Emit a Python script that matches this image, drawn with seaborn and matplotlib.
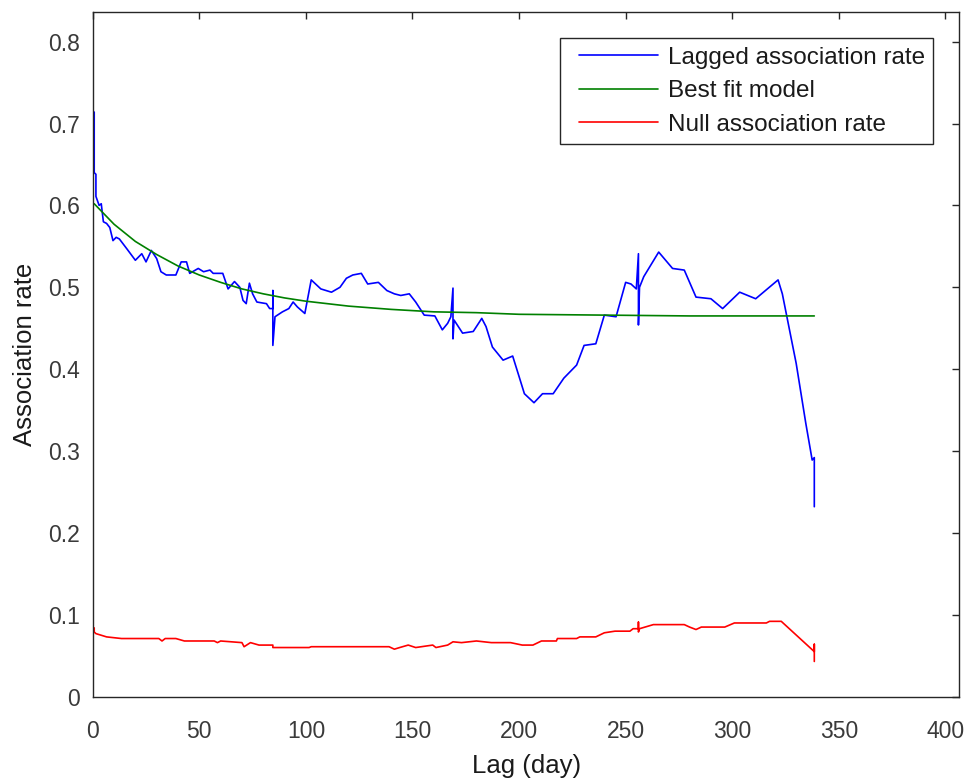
import numpy as np
import pandas as pd
import matplotlib
matplotlib.use("Agg")
import matplotlib.pyplot as plt
from matplotlib.lines import Line2D
from matplotlib.legend_handler import HandlerLine2D
import seaborn as sns

# Lagged association rate (repeated lags give the vertical spikes)
lag_days = [0.7, 0.7, 1.5, 1.5, 3, 4, 5, 6.5, 8, 9.5, 11, 12.5, 16, 20, 23, 25, 27.5, 30,
            32, 34.5, 39, 41.5, 44, 45.5, 49.5, 52, 55, 56.5, 61, 63.5, 66.5, 69, 70.5,
            72, 73.5, 75, 77, 81.5, 83, 84.5, 84.5, 84.5, 85.5, 89, 92, 94, 96, 99.5,
            102.5, 107, 112, 116, 119, 122, 126, 129, 134, 138, 141.5, 144.5, 148.5,
            151.5, 155.5, 160.5, 164, 166.5, 168, 169, 169, 169.5, 173.5, 178.5, 182.5,
            184.5, 187.5, 192.5, 197, 200, 202.5, 207, 211, 216, 221, 227, 230.5, 236,
            240, 245.5, 250, 252.5, 255, 256, 256, 256.5, 258.5, 265.5, 272, 277.5, 283,
            290, 295.5, 303.5, 311, 321.5, 323.5, 330, 334.5, 337.5, 338.5, 338.5]
lagged_rate = [0.714, 0.640, 0.638, 0.611, 0.600, 0.602, 0.580, 0.578, 0.573, 0.557,
               0.561, 0.559, 0.547, 0.533, 0.541, 0.531, 0.545, 0.535, 0.519, 0.515,
               0.515, 0.531, 0.531, 0.517, 0.523, 0.519, 0.521, 0.517, 0.517, 0.498,
               0.507, 0.500, 0.484, 0.480, 0.505, 0.492, 0.482, 0.480, 0.474, 0.474,
               0.496, 0.429, 0.464, 0.470, 0.474, 0.482, 0.476, 0.468, 0.509, 0.498,
               0.494, 0.500, 0.511, 0.515, 0.517, 0.504, 0.506, 0.496, 0.492, 0.490,
               0.492, 0.482, 0.466, 0.465, 0.448, 0.456, 0.464, 0.499, 0.437, 0.460,
               0.444, 0.446, 0.462, 0.452, 0.427, 0.411, 0.416, 0.391, 0.370, 0.359,
               0.370, 0.370, 0.389, 0.405, 0.429, 0.431, 0.466, 0.464, 0.506, 0.504,
               0.498, 0.541, 0.454, 0.500, 0.513, 0.543, 0.523, 0.521, 0.488, 0.486,
               0.474, 0.494, 0.486, 0.509, 0.492, 0.407, 0.334, 0.289, 0.292, 0.232]

# Best fit model curve
fit_days = [0.7, 10, 20, 30, 40, 50, 60, 70, 80, 90, 100, 120, 140, 160, 180, 200, 240,
            280, 338.5]
fit_rate = [0.602, 0.577, 0.556, 0.540, 0.526, 0.515, 0.506, 0.498, 0.492, 0.487,
            0.483, 0.477, 0.473, 0.470, 0.469, 0.467, 0.466, 0.465, 0.465]

# Null association rate
null_days = [0.7, 0.7, 1.5, 6.5, 13.5, 31, 32.5, 34, 39, 43, 57, 58.5, 60, 70, 71, 74, 78,
             84.5, 84.5, 101.5, 102.5, 126, 139, 141.5, 144, 148, 151.5, 159.5, 161,
             166.5, 169, 173, 180, 187, 196, 201.5, 206.5, 210.5, 217.5, 218, 227, 228.5,
             236, 240, 245, 252, 253.5, 256, 256, 256, 256.5, 263, 277.5, 280, 283,
             285.5, 296.5, 301, 316, 317.5, 323, 338.5, 338.5, 338.5]
null_rate = [0.084, 0.079, 0.077, 0.073, 0.071, 0.071, 0.068, 0.071, 0.071, 0.068,
             0.068, 0.066, 0.068, 0.066, 0.061, 0.066, 0.063, 0.063, 0.060, 0.060,
             0.061, 0.061, 0.061, 0.058, 0.060, 0.063, 0.060, 0.063, 0.060, 0.063,
             0.067, 0.066, 0.068, 0.066, 0.066, 0.063, 0.063, 0.068, 0.068, 0.071,
             0.071, 0.073, 0.073, 0.078, 0.080, 0.080, 0.083, 0.083, 0.091, 0.079,
             0.083, 0.088, 0.088, 0.085, 0.082, 0.085, 0.085, 0.090, 0.090, 0.092,
             0.092, 0.055, 0.064, 0.043]

labels = ["Lagged association rate", "Best fit model", "Null association rate"]
colors = ["#0000ff", "#008000", "#ff0000"]

frames = []
for name, xs, ys in zip(labels, [lag_days, fit_days, null_days],
                        [lagged_rate, fit_rate, null_rate]):
    frames.append(pd.DataFrame({"lag": xs, "rate": ys, "series": name}))
df = pd.concat(frames, ignore_index=True)

sns.set_style("white")
plt.rcParams["font.family"] = ["Liberation Sans", "DejaVu Sans"]

fig = plt.figure(figsize=(9.73, 7.84), dpi=100)
ax = fig.add_axes([0.0953, 0.1114, 0.8908, 0.8737])

sns.lineplot(data=df, x="lag", y="rate", hue="series", hue_order=labels,
             palette=dict(zip(labels, colors)), estimator=None, sort=False,
             units="series", linewidth=1.2, ax=ax, legend=False)

ax.set_xlim(0, 406.6)
ax.set_ylim(0, 0.8366)
ax.set_xticks(np.arange(0, 401, 50))
ax.set_yticks(np.round(np.arange(0, 0.81, 0.1), 1))
ax.set_yticklabels(["0", "0.1", "0.2", "0.3", "0.4", "0.5", "0.6", "0.7", "0.8"])

axis_col = "#262626"
for sp in ax.spines.values():
    sp.set_visible(True)
    sp.set_color(axis_col)
    sp.set_linewidth(1.0)
ax.tick_params(direction="in", length=5, width=1.0, color=axis_col,
               top=True, right=True, labelsize=16.5, labelcolor="#3a3a3a")
ax.tick_params(axis="x", pad=16.5)
ax.tick_params(axis="y", pad=9)

ax.set_xlabel("Lag (day)", fontsize=18.5, color="#1a1a1a", labelpad=8)
ax.set_ylabel("Association rate", fontsize=18.5, color="#1a1a1a", labelpad=8)

handles = ax.get_lines()[:3]
leg = ax.legend(handles, labels, loc="upper right",
                bbox_to_anchor=(933.3 / 973, 1 - 38.3 / 784),
                bbox_transform=fig.transFigure, borderaxespad=0,
                fontsize=17.5, frameon=True, fancybox=False, framealpha=1,
                edgecolor=axis_col, handlelength=3.66, handletextpad=0.41,
                labelspacing=0.47, borderpad=0.35,
                handler_map={Line2D: HandlerLine2D(xpad=0.41)})
leg.get_frame().set_linewidth(1.0)
for t in leg.get_texts():
    t.set_color("#1a1a1a")

fig.savefig("out.png", dpi=100)
